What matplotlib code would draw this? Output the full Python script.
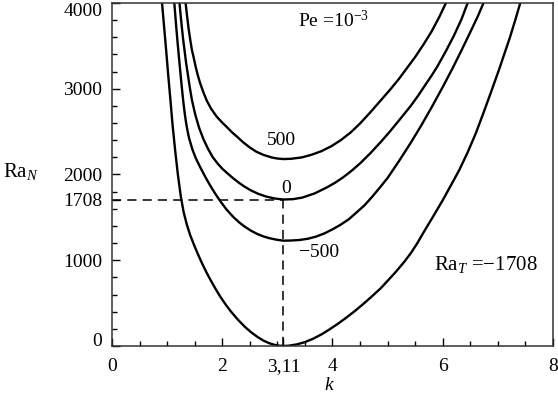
import numpy as np
import matplotlib
matplotlib.use("Agg")
import matplotlib.pyplot as plt
from matplotlib.ticker import MultipleLocator

plt.rcParams['font.family'] = ['Liberation Serif', 'DejaVu Serif']
plt.rcParams['mathtext.fontset'] = 'custom'
plt.rcParams['mathtext.rm'] = 'Liberation Serif'
plt.rcParams['mathtext.it'] = 'Liberation Serif:italic'

# Ra_T = 500
k_p500 = [1.33, 1.36, 1.39, 1.42, 1.45, 1.49, 1.52, 1.56, 1.60, 1.66, 1.72, 1.80, 1.90,
          2.00, 2.08, 2.18, 2.27, 2.38, 2.50, 2.62, 2.75, 2.90, 3.00, 3.11, 3.25, 3.45,
          3.62, 3.80, 3.98, 4.15, 4.33, 4.50, 4.68, 4.87, 5.04, 5.20, 5.35, 5.50, 5.65,
          5.80, 5.94, 6.08]
ra_p500 = [4030, 3860, 3700, 3570, 3452, 3340, 3250, 3150, 3063, 2955, 2860, 2765, 2674,
           2605, 2555, 2490, 2440, 2375, 2315, 2265, 2228, 2198, 2186, 2180, 2183, 2200,
           2230, 2272, 2330, 2400, 2490, 2595, 2720, 2860, 2985, 3110, 3240, 3370, 3515,
           3670, 3840, 4030]

# Ra_T = 0
k_0 = [1.22, 1.245, 1.27, 1.29, 1.315, 1.345, 1.38, 1.415, 1.45, 1.51, 1.58, 1.66, 1.75,
       1.83, 1.92, 2.00, 2.10, 2.20, 2.30, 2.40, 2.51, 2.65, 2.80, 2.95, 3.11, 3.28, 3.45,
       3.68, 3.90, 4.05, 4.20, 4.35, 4.51, 4.69, 4.87, 5.04, 5.20, 5.42, 5.56, 5.70, 5.80,
       5.90, 6.05, 6.20, 6.34, 6.47]
ra_0 = [4030, 3860, 3700, 3580, 3452, 3300, 3150, 3000, 2869, 2700, 2545, 2410, 2290,
        2200, 2125, 2068, 2010, 1955, 1905, 1860, 1818, 1775, 1742, 1720, 1708, 1712, 1730,
        1780, 1850, 1905, 1970, 2045, 2135, 2250, 2375, 2500, 2625, 2800, 2925, 3060, 3155,
        3257, 3430, 3615, 3810, 4030]

# Ra_T = -500
k_m500 = [1.127, 1.145, 1.165, 1.185, 1.206, 1.23, 1.25, 1.27, 1.297, 1.32, 1.345, 1.37,
          1.40, 1.46, 1.52, 1.60, 1.69, 1.76, 1.83, 1.90, 1.98, 2.08, 2.20, 2.30, 2.40,
          2.52, 2.63, 2.75, 2.85, 2.98, 3.11, 3.25, 3.40, 3.55, 3.70, 3.85, 4.00, 4.15,
          4.30, 4.45, 4.58, 4.72, 4.86, 5.00, 5.20, 5.42, 5.60, 5.80, 6.00, 6.18, 6.35,
          6.50, 6.64, 6.76]
ra_m500 = [4030, 3885, 3725, 3575, 3425, 3260, 3125, 2995, 2830, 2710, 2600, 2510,
           2420, 2290, 2190, 2085, 1975, 1895, 1820, 1750, 1675, 1590, 1505, 1445, 1395,
           1345, 1308, 1277, 1258, 1240, 1228, 1230, 1236, 1250, 1275, 1312, 1360, 1415,
           1480, 1565, 1640, 1740, 1848, 1960, 2150, 2370, 2560, 2785, 3020, 3240, 3460,
           3660, 3850, 4030]

# Ra_T = -1708
k_m1708 = [0.904, 0.943, 0.982, 1.02, 1.06, 1.10, 1.145, 1.195, 1.249, 1.30, 1.36, 1.42,
           1.50, 1.57, 1.64, 1.72, 1.80, 1.88, 1.96, 2.06, 2.16, 2.28, 2.40, 2.52, 2.64,
           2.75, 2.85, 2.95, 3.03, 3.11, 3.20, 3.35, 3.50, 3.65, 3.80, 3.95, 4.10, 4.25,
           4.40, 4.55, 4.70, 4.87, 5.00, 5.15, 5.30, 5.42, 5.54, 5.66, 5.83, 6.00, 6.15,
           6.30, 6.45, 6.60, 6.74, 6.87, 7.02, 7.12, 7.22, 7.32, 7.42]
ra_m1708 = [4030, 3740, 3452, 3160, 2869, 2570, 2286, 2000, 1740, 1560, 1410, 1290,
            1160, 1055, 955, 850, 755, 665, 580, 485, 400, 310, 230, 162, 105,
            62, 33, 13, 4, 0, 3, 18, 45, 85, 135, 195, 260, 330,
            405, 485, 570, 670, 760, 865, 980, 1081, 1200, 1333, 1515, 1700, 1875,
            2052, 2255, 2480, 2720, 2950, 3220, 3410, 3600, 3810, 4030]

fig = plt.figure(figsize=(5.58, 3.97), dpi=100)
ax = fig.add_axes([0.2007, 0.1285, 0.7903, 0.864])

for kk, rr in [(k_p500, ra_p500), (k_0, ra_0), (k_m500, ra_m500), (k_m1708, ra_m1708)]:
    ax.plot(kk, rr, color='black', lw=1.7, solid_capstyle='butt', solid_joinstyle='round')

# critical point lines
ax.plot([0, 3.11], [1708, 1708], color='black', lw=1.1, dashes=(6, 4))
ax.plot([3.11, 3.11], [0, 1708], color='black', lw=1.1, dashes=(6, 4))

ax.set_xlim(0, 8)
ax.set_ylim(0, 4000)
ax.set_xticks([0, 2, 3.11, 4, 6, 8])
ax.set_xticklabels(['0', '2', '3,11', '4', '6', '8'])
ax.set_yticks([0, 1000, 1708, 2000, 3000, 4000])
ax.set_yticklabels(['0', '1000', '1708', '2000', '3000', '4000'])
ax.xaxis.set_minor_locator(MultipleLocator(0.5))
ax.yaxis.set_minor_locator(MultipleLocator(200))
ax.tick_params(which='both', direction='in', top=False, right=False, labelsize=14)
ax.tick_params(which='major', length=6, width=1.0)
ax.tick_params(which='minor', length=3.5, width=1.0)
ax.tick_params(axis='y', pad=7)
ax.tick_params(axis='x', pad=9)
ylabels = ax.get_yticklabels()
ylabels[-1].set_va('top')
ylabels[0].set_va('baseline')
for s in ax.spines.values():
    s.set_linewidth(1.1)
    s.set_color('#333333')

ax.text(4.02, 3800, 'Pe =10$^{-3}$', fontsize=14, ha='center', va='center')
ax.text(3.07, 2400, '500', fontsize=14, ha='center', va='center')
ax.text(3.16, 1840, '0', fontsize=14, ha='center', va='center')
ax.text(3.76, 1095, '\u2212500', fontsize=14, ha='center', va='center')
ax.text(6.78, 956, 'Ra$_T$ =\u22121708', fontsize=15, ha='center', va='center')

fig.text(0.005, 0.567, 'Ra$_N$', fontsize=15, ha='left', va='center')
fig.text(0.591, 0.028, '$k$', fontsize=14, ha='center', va='center')

fig.savefig('out.png', dpi=100)
